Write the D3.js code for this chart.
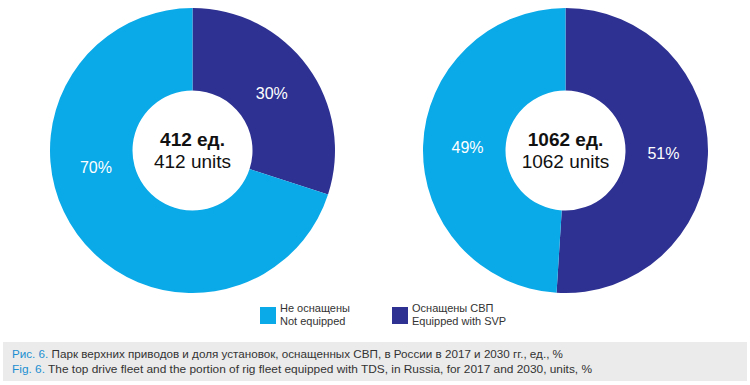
<!DOCTYPE html>
<html>
<head>
<meta charset="utf-8">
<script src="https://cdn.jsdelivr.net/npm/d3@7/dist/d3.min.js"></script>
<style>
  html, body { margin: 0; padding: 0; background: #fff; }
  svg { display: block; font-family: "Liberation Sans", Arial, Helvetica, sans-serif; }
</style>
</head>
<body>
<div id="chart"></div>
<script>
// Chart data
const years = ["2017", "2030"];
const totals = [412, 1062];
const equipped = [30, 51];      // Оснащены СВП, %
const notEquipped = [70, 49];   // Не оснащены, %
const seriesRu = ["Оснащены СВП", "Не оснащены"];
const seriesEn = ["Equipped with SVP", "Not equipped"];
const legendOrder = [1, 0];
const captionRu = ["Рис. 6.", " Парк верхних приводов и доля установок, оснащенных СВП, в России в 2017 и 2030 гг., ед., %"];
const captionEn = ["Fig. 6.", " The top drive fleet and the portion of rig fleet equipped with TDS, in Russia, for 2017 and 2030, units, %"];

const width = 750, height = 385;
const colors = ["#2e3192", "#0aa9e8"];
const outerR = 142.5, innerR = 60, labelR = 98;

const svg = d3.select("#chart").append("svg")
    .attr("width", width)
    .attr("height", height);

const x = d3.scalePoint().domain(years).range([192.5, 565.5]);
const cy = 150.5;

const pie = d3.pie().sort(null).value(d => d);
const arc = d3.arc().innerRadius(innerR).outerRadius(outerR);
const labelArc = d3.arc().innerRadius(labelR).outerRadius(labelR);

// label on the big 2017 slice sits higher than its centroid
const labelNudge = { "2017-1": 26 };

years.forEach((year, i) => {
    const g = svg.append("g")
        .attr("transform", `translate(${x(year)},${cy})`);

    const slices = pie([equipped[i], notEquipped[i]]);

    g.selectAll("path")
        .data(slices)
        .join("path")
        .attr("d", arc)
        .attr("fill", (d, j) => colors[j]);

    g.selectAll("text.pct")
        .data(slices)
        .join("text")
        .attr("class", "pct")
        .attr("transform", (d, j) => {
            const shift = (labelNudge[year + "-" + j] || 0) * Math.PI / 180;
            const mid = (d.startAngle + d.endAngle) / 2 + shift;
            const c = labelArc.centroid({ startAngle: mid, endAngle: mid });
            return `translate(${c[0]},${c[1]})`;
        })
        .attr("text-anchor", "middle")
        .attr("dy", "0.36em")
        .attr("fill", "#fff")
        .style("font-size", "16px")
        .text(d => d.data + "%");

    g.append("text")
        .attr("text-anchor", "middle")
        .attr("y", -4.5)
        .style("font-size", "19px")
        .style("font-weight", "bold")
        .attr("fill", "#111")
        .text(totals[i] + " ед.");

    g.append("text")
        .attr("text-anchor", "middle")
        .attr("y", 17.5)
        .style("font-size", "19px")
        .attr("fill", "#111")
        .text(totals[i] + " units");
});

// Legend
const legendX = d3.scalePoint().domain(legendOrder).range([260, 392]);
const legend = svg.append("g");
legendOrder.forEach(k => {
    const lg = legend.append("g").attr("transform", `translate(${legendX(k)},307)`);
    lg.append("rect")
        .attr("width", 16)
        .attr("height", 17)
        .attr("fill", colors[k]);
    lg.append("text")
        .attr("x", 20)
        .attr("y", 5)
        .style("font-size", "11px")
        .attr("fill", "#333")
        .text(seriesRu[k]);
    lg.append("text")
        .attr("x", 20)
        .attr("y", 18)
        .style("font-size", "11px")
        .attr("fill", "#333")
        .text(seriesEn[k]);
});

// Caption box
svg.append("rect")
    .attr("x", 3)
    .attr("y", 342)
    .attr("width", 744)
    .attr("height", 39)
    .attr("fill", "#ebebeb");

[[captionRu, 358, 551], [captionEn, 373, 580]].forEach(([parts, y, len]) => {
    const t = svg.append("text")
        .attr("x", 12)
        .attr("y", y)
        .attr("textLength", len)
        .attr("lengthAdjust", "spacingAndGlyphs")
        .style("font-size", "11.5px");
    t.append("tspan").attr("fill", "#1b8fd1").text(parts[0]);
    t.append("tspan").attr("fill", "#333").text(parts[1]);
});
</script>
</body>
</html>
